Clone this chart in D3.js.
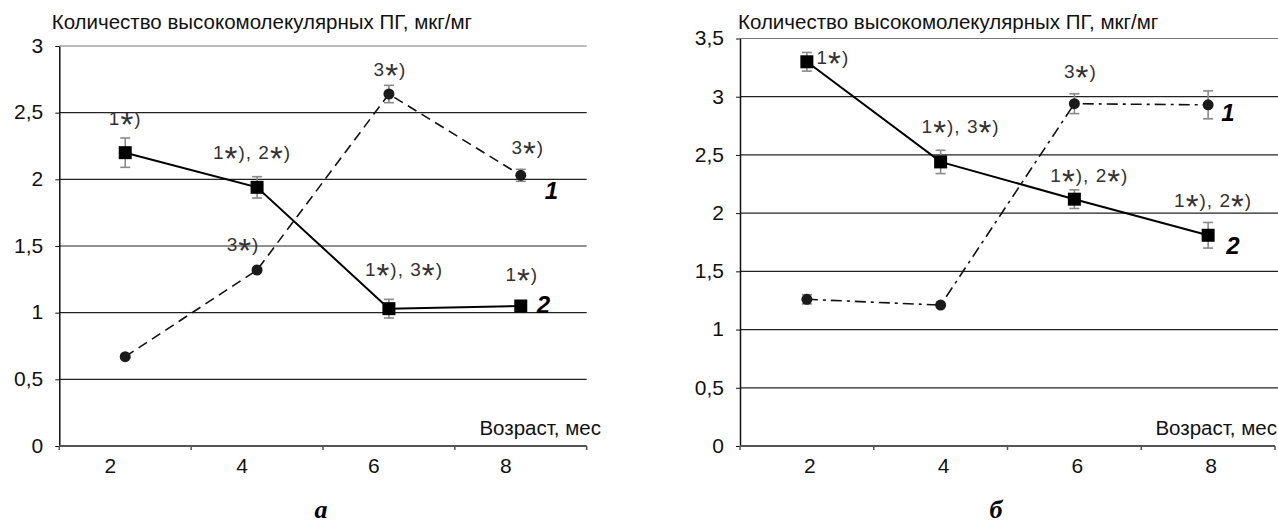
<!DOCTYPE html>
<html>
<head>
<meta charset="utf-8">
<script src="https://cdn.jsdelivr.net/npm/d3@7"></script>
<style>
body { margin: 0; background: #fff; }
svg { display: block; font-family: "Liberation Sans", Arial, sans-serif; }
</style>
</head>
<body>
<svg id="chart" width="1278" height="526"></svg>
<script>
const months = ["2", "4", "6", "8"];

// панель а
const aCurve1 = [0.67, 1.32, 2.64, 2.03];
const aErr1 = [0, 0, 0.065, 0.045];
const aCurve2 = [2.2, 1.94, 1.03, 1.05];
const aErr2 = [0.11, 0.08, 0.07, 0];
const aTicks = [0, 0.5, 1, 1.5, 2, 2.5, 3];
const aNotes = ["1*)", "1*), 2*)", "3*)", "3*)", "3*)", "1*), 3*)", "1*)"];
const aNoteCat = ["2", "4", "6", "8", "4", "6", "8"];
const aNoteVal = [2.41, 2.15, 2.775, 2.19, 1.46, 1.275, 1.24];

// панель б
const bCurve1 = [1.26, 1.21, 2.94, 2.93];
const bErr1 = [0.04, 0, 0.085, 0.12];
const bCurve2 = [3.30, 2.44, 2.12, 1.81];
const bErr2 = [0.08, 0.1, 0.08, 0.11];
const bTicks = [0, 0.5, 1, 1.5, 2, 2.5, 3, 3.5];
const bNotes = ["1*)", "1*), 3*)", "3*)", "1*), 2*)", "1*), 2*)"];
const bNoteCat = ["2", "4", "6", "6", "8"];
const bNoteVal = [3.285, 2.69, 3.16, 2.27, 2.055];

const title = "Количество высокомолекулярных ПГ, мкг/мг";
const xName = "Возраст, мес";
const sans = "Liberation Sans, Arial, sans-serif";

const panels = [
  { left: 59.3, right: 586.7, top: 46, max: 3, gridEnd: 586.7, ticks: aTicks,
    c1: aCurve1, e1: aErr1, c2: aCurve2, e2: aErr2, dash: "10,6",
    notes: aNotes, noteCat: aNoteCat, noteVal: aNoteVal, noteDx: [0, -5, 1, 7, -14, 15, 1],
    labelDx: -15, titleX: 51.7, xNameX: 601, tag: "а", tagX: 321,
    lab1: [24, 24], lab2: [16, 7] },
  { left: 740, right: 1275, top: 38.5, max: 3.5, gridEnd: 1278, ticks: bTicks,
    c1: bCurve1, e1: bErr1, c2: bCurve2, e2: bErr2, dash: "11,5,3,5",
    notes: bNotes, noteCat: bNoteCat, noteVal: bNoteVal, noteDx: [26, 20, 6, 15, 5],
    labelDx: 3, titleX: 738, xNameX: 1277, tag: "б", tagX: 996,
    lab1: [13, 16], lab2: [18, 19] }
];

const svg = d3.select("#chart");
const base = 446;

// текст со звёздочками покрупнее и пониже
function noteText(sel, str) {
  let shifted = false;
  str.split("").forEach(ch => {
    const t = sel.append("tspan").text(ch);
    if (ch === "*") {
      t.attr("font-size", 33).attr("dy", 11);
      shifted = true;
    } else if (shifted) {
      t.attr("dy", -11);
      shifted = false;
    }
  });
}

panels.forEach(p => {
  const x = d3.scaleBand().domain(months).range([p.left, p.right]);
  const y = d3.scaleLinear().domain([0, p.max]).range([base, p.top]);
  const cx = d => x(d) + x.bandwidth() / 2;
  const g = svg.append("g");

  // сетка
  g.selectAll("line.grid")
    .data(p.ticks.filter(t => t > 0))
    .enter().append("line")
    .attr("x1", p.left).attr("x2", p.gridEnd)
    .attr("y1", d => y(d)).attr("y2", d => y(d))
    .attr("stroke", d => d === p.max ? "#777" : "#222")
    .attr("stroke-width", 1.2);

  // ось Y
  const ya = g.append("g")
    .attr("transform", `translate(${p.left},0)`)
    .call(d3.axisLeft(y).tickValues(p.ticks).tickSize(4).tickSizeOuter(0).tickPadding(12)
      .tickFormat(d => String(d).replace(".", ",")));
  ya.select(".domain").attr("stroke", "#111").attr("stroke-width", 1.5);
  ya.selectAll(".tick line").attr("stroke", "#111");
  ya.selectAll("text").attr("font-size", 21).attr("fill", "#111")
    .attr("font-family", sans).attr("dy", "0.3em");

  // ось X
  const xa = g.append("g")
    .attr("transform", `translate(0,${base})`)
    .call(d3.axisBottom(x).tickSize(0).tickPadding(12));
  xa.select(".domain").remove();
  xa.selectAll("text").attr("font-size", 21).attr("fill", "#111")
    .attr("font-family", sans).attr("dx", p.labelDx);
  g.append("line")
    .attr("x1", p.left).attr("x2", p.right).attr("y1", base).attr("y2", base)
    .attr("stroke", "#555").attr("stroke-width", 2);
  g.selectAll("line.xt")
    .data(months.map(m => x(m)).concat([p.right]))
    .enter().append("line")
    .attr("x1", d => d).attr("x2", d => d)
    .attr("y1", base).attr("y2", base + 4)
    .attr("stroke", "#555").attr("stroke-width", 1.5);

  // линии
  const line = d3.line().x((d, i) => cx(months[i])).y(d => y(d));
  g.append("path").datum(p.c1).attr("d", line)
    .attr("fill", "none").attr("stroke", "#111").attr("stroke-width", 1.6)
    .attr("stroke-dasharray", p.dash);
  g.append("path").datum(p.c2).attr("d", line)
    .attr("fill", "none").attr("stroke", "#000").attr("stroke-width", 2);

  // планки погрешностей
  [[p.c1, p.e1], [p.c2, p.e2]].forEach(([vals, errs]) => {
    const eb = g.selectAll(null)
      .data(vals.map((v, i) => ({ v, e: errs[i], m: months[i] })).filter(d => d.e > 0))
      .enter().append("g").attr("stroke", "#8a8a8a").attr("stroke-width", 1.6);
    eb.append("line").attr("x1", d => cx(d.m)).attr("x2", d => cx(d.m))
      .attr("y1", d => y(d.v - d.e)).attr("y2", d => y(d.v + d.e));
    eb.append("line").attr("x1", d => cx(d.m) - 5).attr("x2", d => cx(d.m) + 5)
      .attr("y1", d => y(d.v + d.e)).attr("y2", d => y(d.v + d.e));
    eb.append("line").attr("x1", d => cx(d.m) - 5).attr("x2", d => cx(d.m) + 5)
      .attr("y1", d => y(d.v - d.e)).attr("y2", d => y(d.v - d.e));
  });

  // маркеры
  g.selectAll("circle.m1").data(p.c1).enter().append("circle")
    .attr("cx", (d, i) => cx(months[i])).attr("cy", d => y(d)).attr("r", 5.5)
    .attr("fill", "#1a1a1a");
  g.selectAll("rect.m2").data(p.c2).enter().append("rect")
    .attr("x", (d, i) => cx(months[i]) - 6.5).attr("y", d => y(d) - 6.5)
    .attr("width", 13).attr("height", 13).attr("fill", "#000");

  // подписи кривых
  const last = months.length - 1;
  g.append("text").text("1")
    .attr("x", cx(months[last]) + p.lab1[0]).attr("y", y(p.c1[last]) + p.lab1[1])
    .attr("font-family", sans).attr("font-size", 24).attr("font-weight", "bold").attr("font-style", "italic");
  g.append("text").text("2")
    .attr("x", cx(months[last]) + p.lab2[0]).attr("y", y(p.c2[last]) + p.lab2[1])
    .attr("font-family", sans).attr("font-size", 24).attr("font-weight", "bold").attr("font-style", "italic");

  // значимость
  p.notes.forEach((s, i) => {
    const t = g.append("text")
      .attr("x", cx(p.noteCat[i]) + p.noteDx[i]).attr("y", y(p.noteVal[i]))
      .attr("text-anchor", "middle").attr("font-family", sans)
      .attr("font-size", 19).attr("fill", "#333")
      .attr("letter-spacing", 1);
    noteText(t, s);
  });

  // заголовки
  g.append("text").text(title).attr("x", p.titleX).attr("y", 28.5)
    .attr("font-family", sans).attr("font-size", 20.5).attr("fill", "#111");
  g.append("text").text(xName).attr("x", p.xNameX).attr("y", 435)
    .attr("text-anchor", "end").attr("font-family", sans).attr("font-size", 20.5).attr("fill", "#111");
  g.append("text").text(p.tag).attr("x", p.tagX).attr("y", 518)
    .attr("text-anchor", "middle").attr("font-size", 26).attr("font-weight", "bold")
    .attr("font-style", "italic").attr("font-family", "Liberation Serif, Times New Roman, serif");
});
</script>
</body>
</html>
